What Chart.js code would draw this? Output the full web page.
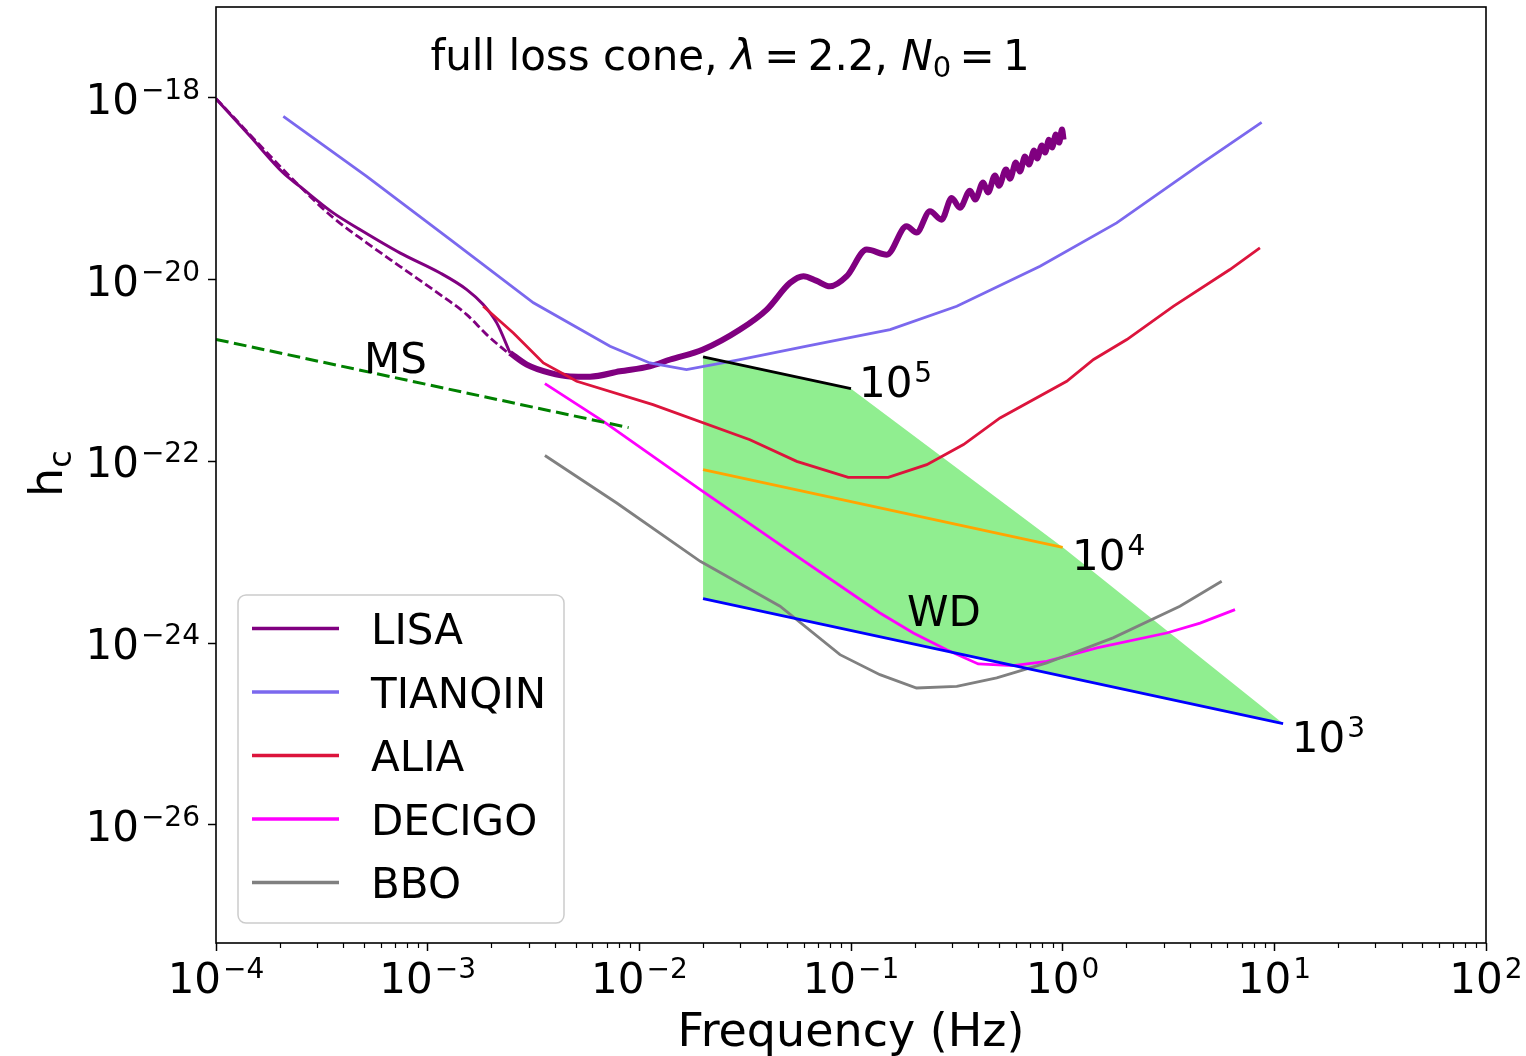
<!DOCTYPE html>
<html>
<head>
<meta charset="utf-8">
<script src="https://cdn.jsdelivr.net/npm/chart.js@4.4.1/dist/chart.umd.min.js"></script>
<style>
  html, body { margin: 0; padding: 0; background: #fff; }
  canvas { display: block; }
</style>
</head>
<body>
<canvas id="myChart" width="1526" height="1056"></canvas>
<script>
// frequency (Hz) / characteristic strain h_c

// LISA, low frequency part (thin) and the bucket + wiggles (thick)
const lisaFreq = [1.0e-4, 1.45e-4, 2.08e-4, 2.49e-4, 3.58e-4, 4.79e-4, 7.39e-4, 1.14e-3, 1.53e-3, 1.83e-3, 2.12e-3, 2.45e-3]
const lisaHc = [9.8e-19, 3.77e-19, 1.49e-19, 1.06e-19, 5.42e-20, 3.55e-20, 1.97e-20, 1.19e-20, 7.76e-21, 5.31e-21, 3.34e-21, 1.56e-21]

const lisaHighFreq = [2.45e-3, 2.94e-3, 3.78e-3, 4.70e-3, 5.85e-3, 8.1e-3, 1.12e-2, 1.40e-2, 2.0e-2, 2.99e-2, 4.0e-2,
  5.15e-2, 5.96e-2, 6.84e-2, 7.96e-2, 9.55e-2, 0.1186, 0.1476, 0.183, 0.204, 0.236, 0.268, 0.299, 0.327,
  0.365, 0.386, 0.421, 0.444, 0.479, 0.500, 0.540, 0.564, 0.601, 0.628, 0.664, 0.693, 0.733, 0.757,
  0.798, 0.826, 0.861, 0.891, 0.929, 0.962, 0.993, 1.01]
const lisaHighHc = [1.56e-21, 1.16e-21, 9.4e-22, 8.6e-22, 8.55e-22, 9.8e-22, 1.11e-21, 1.32e-21, 1.70e-21, 2.82e-21, 4.68e-21,
  9.2e-21, 1.09e-20, 9.75e-21, 8.44e-21, 1.09e-20, 2.14e-20, 1.88e-20, 3.86e-20, 3.29e-20, 5.65e-20, 4.57e-20, 7.93e-20, 6.17e-20,
  9.5e-20, 7.6e-20, 1.17e-19, 9.1e-20, 1.40e-19, 1.08e-19, 1.63e-19, 1.29e-19, 1.94e-19, 1.55e-19, 2.26e-19, 1.85e-19, 2.63e-19, 2.15e-19,
  2.99e-19, 2.5e-19, 3.47e-19, 2.84e-19, 3.94e-19, 3.22e-19, 4.48e-19, 3.47e-19]

// LISA dashed (no foreground)
const lisaDashFreq = [1.0e-4, 2.49e-4, 3.58e-4, 5.15e-4, 7.39e-4, 1.06e-3, 1.53e-3, 1.90e-3, 2.45e-3]
const lisaDashHc = [9.8e-19, 1.06e-19, 4.8e-20, 2.54e-20, 1.40e-20, 7.76e-21, 4.12e-21, 2.48e-21, 1.49e-21]

const tianqinFreq = [2.08e-4, 5.15e-4, 1.28e-3, 3.16e-3, 7.27e-3, 1.12e-2, 1.67e-2, 2.99e-2, 6.18e-2, 0.153, 0.316, 0.782, 1.80, 4.46, 8.71]
const tianqinHc = [6.27e-19, 1.37e-19, 2.75e-20, 5.55e-21, 1.85e-21, 1.21e-21, 1.02e-21, 1.32e-21, 1.85e-21, 2.82e-21, 5.08e-21, 1.40e-20, 4.21e-20, 1.85e-19, 5.38e-19]

const aliaFreq = [1.83e-3, 2.54e-3, 3.52e-3, 5.06e-3, 1.16e-2, 3.33e-2, 5.54e-2, 9.7e-2, 0.150, 0.228, 0.340, 0.506, 1.045, 1.40, 2.01, 3.33, 6.17, 8.55]
const aliaHc = [5.08e-21, 2.59e-21, 1.21e-21, 7.6e-22, 4.21e-22, 1.73e-22, 1.0e-22, 6.67e-23, 6.67e-23, 9.2e-23, 1.53e-22, 3.0e-22, 7.6e-22, 1.32e-21, 2.19e-21, 5.08e-21, 1.29e-20, 2.23e-20]

const decigoFreq = [3.58e-3, 6.76e-3, 1.94e-2, 4.62e-2, 0.137, 0.197, 0.283, 0.399, 0.585, 0.841, 1.45, 3.10, 4.46, 6.52]
const decigoHc = [7.15e-22, 2.75e-22, 4.88e-23, 1.21e-23, 2.14e-24, 1.29e-24, 8.45e-25, 5.89e-25, 5.64e-25, 6.29e-25, 8.83e-25, 1.29e-24, 1.66e-24, 2.33e-24]

const bboFreq = [3.58e-3, 7.82e-3, 1.94e-2, 4.62e-2, 8.87e-2, 0.137, 0.204, 0.316, 0.488, 0.841, 1.73, 3.58, 5.64]
const bboHc = [1.16e-22, 3.48e-23, 7.94e-24, 2.54e-24, 7.45e-25, 4.49e-25, 3.2e-25, 3.34e-25, 4.13e-25, 6.04e-25, 1.14e-24, 2.54e-24, 4.78e-24]

// main sequence stars
const msFreq = [1e-4, 8.9e-3]
const msHc = [2.2e-21, 2.35e-22]

// white dwarfs, central mass 1e5, 1e4, 1e3
const wd5Freq = [0.02, 0.1]
const wd5Hc = [1.41e-21, 6.3e-22]
const wd4Freq = [0.02, 1.0]
const wd4Hc = [8.1e-23, 1.13e-23]
const wd3Freq = [0.02, 11]
const wd3Hc = [3.08e-24, 1.3e-25]
// upper edge of the WD region (lower edge is the 1e3 line)
const wdEdgeFreq = [0.02, 0.1, 1.0, 11]
const wdEdgeHc = [1.41e-21, 6.3e-22, 1.13e-23, 1.3e-25]

// axes: ticks are 10^exp
const xTicks = [1e-4, 1e-3, 1e-2, 1e-1, 1e0, 1e1, 1e2]
const xTickExp = ['−4', '−3', '−2', '−1', '0', '1', '2']
const yTicks = [1e-26, 1e-24, 1e-22, 1e-20, 1e-18]
const yTickExp = ['−26', '−24', '−22', '−20', '−18']

// text labels in the plot
const noteText = ['MS', 'WD', '10', '10', '10']
const noteSup = ['', '', '5', '4', '3']
const noteFreq = [5.0e-4, 0.184, 0.109, 1.107, 12.1]
const noteHc = [9.4e-22, 1.56e-24, 5.15e-22, 6.3e-24, 6.27e-26]

const legendNames = ['LISA', 'TIANQIN', 'ALIA', 'DECIGO', 'BBO']
const legendColors = ['#800080', '#7B68EE', '#DC143C', '#FF00FF', '#808080']

const FONT = '"DejaVu Sans", sans-serif'
const F42 = '42px ' + FONT
const FSUP = '28px ' + FONT

let pts = (fs, hs) => fs.map((f, i) => ({ x: f, y: hs[i] }))

let line = (label, fs, hs, color, width, order, extra) => Object.assign({
  label: label,
  data: pts(fs, hs),
  borderColor: color,
  backgroundColor: color,
  borderWidth: width,
  pointRadius: 0,
  fill: false,
  tension: 0,
  order: order
}, extra || {})

// green WD band, drawn under the curves
const wdBand = {
  id: 'wdBand',
  beforeDatasetsDraw(chart) {
    const { ctx, chartArea, scales: { x, y } } = chart
    ctx.save()
    ctx.beginPath()
    ctx.rect(chartArea.left, chartArea.top, chartArea.width, chartArea.height)
    ctx.clip()
    ctx.beginPath()
    wdEdgeFreq.forEach((f, i) => {
      const px = x.getPixelForValue(f), py = y.getPixelForValue(wdEdgeHc[i])
      if (i === 0) ctx.moveTo(px, py)
      else ctx.lineTo(px, py)
    })
    for (let i = wd3Freq.length - 1; i >= 0; i--) {
      ctx.lineTo(x.getPixelForValue(wd3Freq[i]), y.getPixelForValue(wd3Hc[i]))
    }
    ctx.closePath()
    ctx.fillStyle = '#90EE90'
    ctx.fill()
    ctx.restore()
  }
}

let drawPieces = (ctx, pieces, x0, y0) => {
  let x = x0
  pieces.forEach(p => {
    ctx.font = p.font
    ctx.fillText(p.t, x + (p.dx || 0), y0 + (p.dy || 0))
    x += ctx.measureText(p.t).width + (p.dx || 0)
  })
  return x - x0
}

// "10" with a raised exponent
let powPieces = (exp) => [
  { t: '10', font: F42 },
  { t: exp, font: FSUP, dx: 2, dy: -15 }
]

let piecesWidth = (ctx, pieces) => pieces.reduce((w, p) => {
  ctx.font = p.font
  return w + ctx.measureText(p.t).width + (p.dx || 0)
}, 0)

const decor = {
  id: 'decor',
  afterDraw(chart) {
    const { ctx, chartArea: a, scales: { x, y } } = chart
    ctx.save()

    // frame
    ctx.strokeStyle = '#000'
    ctx.lineWidth = 1.6
    ctx.strokeRect(a.left, a.top, a.right - a.left, a.bottom - a.top)

    // minor ticks on the frequency axis
    ctx.lineWidth = 1.2
    ctx.beginPath()
    for (let d = 0; d < xTicks.length - 1; d++) {
      for (let k = 2; k <= 9; k++) {
        const px = Math.round(x.getPixelForValue(k * xTicks[d])) + 0.5
        ctx.moveTo(px, a.bottom)
        ctx.lineTo(px, a.bottom + 5)
      }
    }
    ctx.stroke()

    ctx.fillStyle = '#000'
    ctx.textAlign = 'left'
    ctx.textBaseline = 'alphabetic'

    // tick labels
    xTicks.forEach((v, i) => {
      const p = powPieces(xTickExp[i])
      const w = piecesWidth(ctx, p)
      drawPieces(ctx, p, x.getPixelForValue(v) - w / 2, a.bottom + 50)
    })
    yTicks.forEach((v, i) => {
      const p = powPieces(yTickExp[i])
      const w = piecesWidth(ctx, p)
      drawPieces(ctx, p, a.left - 16 - w, y.getPixelForValue(v) + 16)
    })

    // notes
    noteText.forEach((t, i) => {
      const px = x.getPixelForValue(noteFreq[i]), py = y.getPixelForValue(noteHc[i])
      if (noteSup[i]) drawPieces(ctx, powPieces(noteSup[i]), px, py)
      else { ctx.font = F42; ctx.fillText(t, px, py) }
    })

    // title inside the axes
    const itf = 'italic 42px ' + FONT
    drawPieces(ctx, [
      { t: 'full loss cone, ', font: F42 },
      { t: 'λ', font: itf },
      { t: '\u2009=\u20092.2, ', font: F42 },
      { t: 'N', font: itf },
      { t: '0', font: '29px ' + FONT, dy: 7 },
      { t: '\u2009=\u20091', font: F42 }
    ], x.getPixelForValue(1.03e-3), y.getPixelForValue(2.04e-18))

    // x axis title
    ctx.font = '46px ' + FONT
    ctx.textAlign = 'center'
    ctx.fillText('Frequency (Hz)', (a.left + a.right) / 2, a.bottom + 103)

    // y axis title h_c
    ctx.save()
    ctx.translate(a.left - 154, (a.top + a.bottom) / 2 + 22)
    ctx.rotate(-Math.PI / 2)
    ctx.textAlign = 'left'
    ctx.font = '46px ' + FONT
    ctx.fillText('h', 0, 0)
    const hw = ctx.measureText('h').width
    ctx.font = '32px ' + FONT
    ctx.fillText('c', hw, 9)
    ctx.restore()

    // legend
    const lx = a.left + 22, ly = a.top + 588, lw = 326, lh = 328, r = 8
    ctx.beginPath()
    ctx.moveTo(lx + r, ly)
    ctx.arcTo(lx + lw, ly, lx + lw, ly + lh, r)
    ctx.arcTo(lx + lw, ly + lh, lx, ly + lh, r)
    ctx.arcTo(lx, ly + lh, lx, ly, r)
    ctx.arcTo(lx, ly, lx + lw, ly, r)
    ctx.closePath()
    ctx.fillStyle = 'rgba(255,255,255,0.8)'
    ctx.fill()
    ctx.strokeStyle = '#cccccc'
    ctx.lineWidth = 1.5
    ctx.stroke()

    ctx.textAlign = 'left'
    ctx.font = F42
    legendNames.forEach((name, i) => {
      const ry = ly + 33.5 + i * 63.5
      ctx.beginPath()
      ctx.moveTo(lx + 14, ry)
      ctx.lineTo(lx + 101, ry)
      ctx.strokeStyle = legendColors[i]
      ctx.lineWidth = 3.5
      ctx.stroke()
      ctx.fillStyle = '#000'
      ctx.fillText(name, lx + 133, ry + 15.5)
    })

    ctx.restore()
  }
}

let plot = () => {
  const ctx = document.getElementById('myChart')

  const datasets = [
    line('LISA', lisaFreq, lisaHc, '#800080', 3, 13, { cubicInterpolationMode: 'monotone' }),
    line('LISA', lisaHighFreq, lisaHighHc, '#800080', 6, 13, { cubicInterpolationMode: 'monotone' }),
    line('LISA (dashed)', lisaDashFreq, lisaDashHc, '#800080', 2.8, 13, { borderDash: [8.5, 3.7], cubicInterpolationMode: 'monotone' }),
    line('TIANQIN', tianqinFreq, tianqinHc, '#7B68EE', 2.8, 9),
    line('ALIA', aliaFreq, aliaHc, '#DC143C', 2.8, 8),
    line('DECIGO', decigoFreq, decigoHc, '#FF00FF', 2.8, 7),
    line('BBO', bboFreq, bboHc, '#808080', 2.8, 6),
    line('MS', msFreq, msHc, '#008000', 3, 5, { borderDash: [12.8, 5.5] }),
    line('WD 1e5', wd5Freq, wd5Hc, '#000000', 2.8, 3),
    line('WD 1e4', wd4Freq, wd4Hc, '#FFA500', 2.8, 2),
    line('WD 1e3', wd3Freq, wd3Hc, '#0000FF', 2.8, 1)
  ]

  const tickMarks = { display: true, drawOnChartArea: false, drawTicks: true, tickLength: 8, tickWidth: 1.5, tickColor: '#000' }

  const config = {
    type: 'line',
    data: { datasets: datasets },
    options: {
      responsive: false,
      animation: false,
      layout: { padding: { top: 7, right: 40, bottom: 0, left: 0 } },
      plugins: {
        legend: { display: false },
        tooltip: { enabled: false }
      },
      scales: {
        x: {
          type: 'logarithmic',
          min: 1e-4,
          max: 1e2,
          afterBuildTicks: (s) => { s.ticks = xTicks.map(v => ({ value: v })) },
          afterFit: (s) => {
            s.height = 113
            s.paddingLeft = 0; s.paddingRight = 0; s.paddingTop = 0; s.paddingBottom = 0
          },
          ticks: { display: false },
          grid: tickMarks,
          border: { display: false }
        },
        y: {
          type: 'logarithmic',
          min: 5e-28,
          max: 1e-17,
          afterBuildTicks: (s) => { s.ticks = yTicks.map(v => ({ value: v })) },
          afterFit: (s) => {
            s.width = 216
            s.paddingLeft = 0; s.paddingRight = 0; s.paddingTop = 0; s.paddingBottom = 0
          },
          ticks: { display: false },
          grid: tickMarks,
          border: { display: false }
        }
      }
    },
    plugins: [wdBand, decor]
  }

  const chart = new Chart(ctx, config)
}

plot()
</script>
</body>
</html>
